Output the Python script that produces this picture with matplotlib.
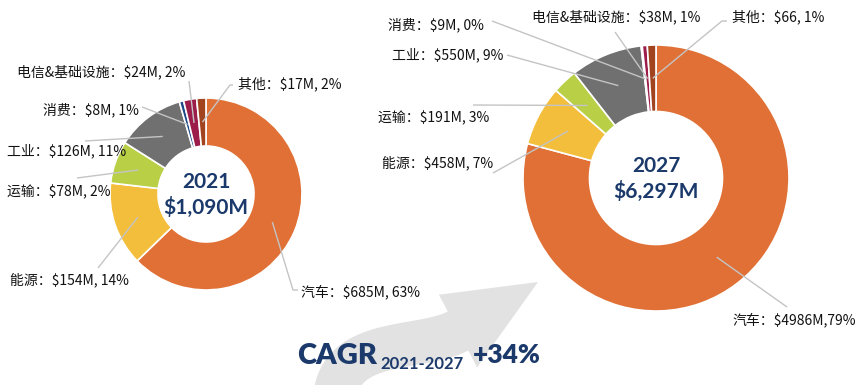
import numpy as np
import matplotlib
matplotlib.use("Agg")
import matplotlib.pyplot as plt
from matplotlib.patches import Polygon

plt.rcParams['font.family'] = ['Noto Sans CJK SC', 'DejaVu Sans']

# ---------------- data ----------------
sectors = ['汽车', '能源', '运输', '工业', '消费', '电信&基础设施', '其他']
values_2021 = [685, 154, 78, 126, 8, 24, 17]
values_2027 = [4986, 458, 191, 550, 9, 38, 66]
labels_2021 = ['汽车：$685M, 63%', '能源：$154M, 14%', '运输：$78M, 2%', '工业：$126M, 11%',
               '消费：$8M, 1%', '电信&基础设施：$24M, 2%', '其他：$17M, 2%']
labels_2027 = ['汽车：$4986M,79%', '能源：$458M, 7%', '运输：$191M, 3%', '工业：$550M, 9%',
               '消费：$9M, 0%', '电信&基础设施：$38M, 1%', '其他：$66, 1%']
years = ['2021', '2027']
totals = ['$1,090M', '$6,297M']
cagr_label = 'CAGR'
cagr_period = '2021-2027'
cagr_value = '+34%'

colors = ['#E07036', '#F3BE3B', '#B9CF46', '#707070', '#1F4A8A', '#9C1C4A', '#A2431F']
navy = '#1B3A6B'
line_c = '#C4C4C4'

W, H = 865, 385
fig = plt.figure(figsize=(W / 100, H / 100), dpi=100)
ax = fig.add_axes([0, 0, 1, 1])


def P(x, y):
    """pixel (y down) -> axes data (y up)"""
    return (x, H - y)


# ---------------- layout ----------------
donuts = [
    dict(values=values_2021, labels=labels_2021, center=(206, 194), R=96,
         text_pos=[(301, 292), (10, 280), (7, 192), (7, 151), (43, 110), (17, 72), (238, 84)],
         anchors=[[(298, 290), (293, 290)], [(98, 268)], [(77, 178)], [(85, 141)],
                  [(142, 107)], [(189, 81)], [(233, 85), (230, 85)]]),
    dict(values=values_2027, labels=labels_2027, center=(656, 178), R=133,
         text_pos=[(732, 320), (382, 163), (378, 118), (392, 55), (388, 25), (532, 17), (732, 17)],
         anchors=[[(787, 307)], [(493, 173)], [(473, 105)], [(507, 55)],
                  [(492, 21)], [(615, 32)], [(727, 21), (722, 21)]]),
]

# ---------------- curved arrow (background decoration, pixel coords) ----------------
S, C1, C2, E = (np.array(p, float) for p in [(335, 410), (330, 335), (418, 352), (458, 331)])
tip = np.array([538.0, 282.0])
t = np.linspace(0, 1, 80)[:, None]
B = (1 - t) ** 3 * S + 3 * (1 - t) ** 2 * t * C1 + 3 * (1 - t) * t ** 2 * C2 + t ** 3 * E
dB = 3 * ((1 - t) ** 2 * (C1 - S) + 2 * t * (1 - t) * (C2 - C1) + t ** 2 * (E - C2))
tan = dB / np.linalg.norm(dB, axis=1, keepdims=True)
nrm = np.column_stack([tan[:, 1], -tan[:, 0]])  # points to upper-left (pixel y down)
half_tail, half_head = 22, 41
edge_a = B + half_tail * nrm
edge_b = B - half_tail * nrm
barb_a = E + half_head * nrm[-1]
barb_b = E - half_head * nrm[-1]
poly = np.vstack([edge_a, barb_a, tip, barb_b, edge_b[::-1]])
ax.add_patch(Polygon([P(x, y) for x, y in poly], closed=True, facecolor='#E2E2E2',
                     edgecolor='none', zorder=0))

for i, d in enumerate(donuts):
    cx, cy = P(*d['center'])
    R = d['R']
    wedges, _ = ax.pie(d['values'], colors=colors, startangle=90, counterclock=False,
                       center=(cx, cy), radius=R,
                       wedgeprops=dict(width=R * 0.5, edgecolor='white', linewidth=1.2))
    for w, lab, tp, anc in zip(wedges, d['labels'], d['text_pos'], d['anchors']):
        mid = np.deg2rad((w.theta1 + w.theta2) / 2)
        ex, ey = cx + 0.75 * R * np.cos(mid), cy + 0.75 * R * np.sin(mid)
        pts = [P(*a) for a in anc] + [(ex, ey)]
        xs, ys = zip(*pts)
        ax.plot(xs, ys, color=line_c, lw=1, zorder=3, solid_capstyle='butt')
        ax.text(*P(*tp), lab, ha='left', va='center', fontsize=10, color='#111111', zorder=4)
    ax.text(cx, cy + 12, years[i], ha='center', va='center', fontsize=15, fontweight='bold',
            family='Lato', color=navy, zorder=4)
    ax.text(cx, cy - 13, totals[i], ha='center', va='center', fontsize=15, fontweight='bold',
            family='Lato', color=navy, zorder=4)

# ---------------- CAGR ----------------
ax.text(*P(297, 356), cagr_label, ha='left', va='center', fontsize=21, fontweight='heavy',
        family='Lato', color=navy, zorder=4)
ax.text(*P(380, 364), cagr_period, ha='left', va='center', fontsize=12, fontweight='bold',
        family='Lato', color=navy, zorder=4)
ax.text(*P(473, 355), cagr_value, ha='left', va='center', fontsize=19, fontweight='heavy',
        family='Lato', color=navy, zorder=4)

ax.set_xlim(0, W)
ax.set_ylim(0, H)
ax.set_aspect('auto')
ax.axis('off')
fig.savefig('out.png', dpi=100)
